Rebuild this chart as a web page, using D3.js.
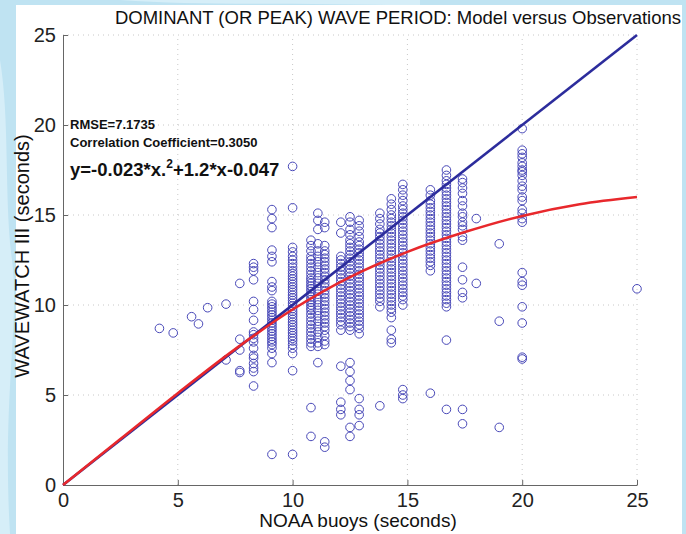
<html>
<head>
<style>
  body { margin: 0; }
  text { font-family: "Liberation Sans", Arial, Helvetica, sans-serif; }
  .grid line { stroke: #c8c8c8; stroke-dasharray: 1,4; }
  .axis path, .axis line { stroke: #666; }
  .axis text { font-size: 20px; fill: #222; }
  .note { font-weight: bold; fill: #111; }
</style>
<script src="https://d3js.org/d3.v7.min.js"></script>
</head>
<body>
<script>
var width = 686, height = 534;

var xTicks = [0, 5, 10, 15, 20, 25];
var yTicks = [0, 5, 10, 15, 20, 25];

// buoy period bins and the model values seen at each bin
var colX = [4.2, 4.8, 5.6, 5.9, 6.3, 7.1, 7.7, 8.3, 9.1, 10.0, 10.8, 11.1, 11.4, 12.1, 12.5, 12.9, 13.8, 14.3, 14.8, 16.0, 16.7, 17.4, 18.0, 19.0, 20.0, 25.0];
var colY = [
  [8.7],
  [8.45],
  [9.35],
  [8.95],
  [9.85],
  [10.05, 6.95],
  [11.2, 8.1, 7.5, 6.35, 6.25],
  [12.3, 12.1, 11.9, 11.4, 10.2, 9.75, 9.15, 8.5, 8.35, 8.15, 7.95, 7.6, 7.2, 7.05, 6.75, 6.5, 6.3, 5.5],
  [15.3, 14.8, 14.3, 13.05, 12.7, 12.4, 11.3, 11.0, 10.8, 10.2, 10.05, 9.9, 9.75, 9.6, 9.45, 9.3, 9.15, 9.0, 8.85, 8.7, 8.55, 8.4, 8.25, 8.1, 7.95, 7.8, 7.6, 7.3, 6.8, 1.7],
  [17.7, 15.4, 13.2, 12.95, 12.7, 12.5, 12.3, 12.1, 11.9, 11.75, 11.6, 11.45, 11.3, 11.15, 11.0, 10.85, 10.7, 10.55, 10.4, 10.25, 10.1, 9.95, 9.8, 9.65, 9.5, 9.35, 9.2, 9.05, 8.9, 8.75, 8.6, 8.45, 8.3, 8.15, 8.0, 7.8, 7.6, 7.3, 6.35, 1.7],
  [13.6, 13.3, 13.0, 12.7, 12.5, 12.3, 12.1, 11.9, 11.7, 11.5, 11.35, 11.2, 11.05, 10.9, 10.75, 10.6, 10.45, 10.3, 10.15, 10.0, 9.85, 9.7, 9.5, 9.3, 9.1, 8.9, 8.7, 8.5, 8.3, 8.1, 7.9, 7.7, 4.3, 2.7],
  [15.1, 14.7, 14.2, 13.4, 13.0, 12.7, 12.4, 12.1, 11.8, 11.5, 11.2, 10.9, 10.6, 10.3, 10.0, 9.7, 9.4, 9.1, 8.8, 8.5, 8.2, 7.9, 7.7, 6.8],
  [14.6, 14.3, 13.3, 13.0, 12.8, 12.6, 12.4, 12.2, 12.0, 11.8, 11.6, 11.4, 11.2, 11.0, 10.8, 10.6, 10.4, 10.2, 10.0, 9.8, 9.6, 9.4, 9.2, 9.0, 8.8, 8.6, 8.3, 8.0, 7.8, 2.4, 2.1],
  [14.6, 14.0, 12.7, 12.5, 12.3, 12.1, 11.9, 11.7, 11.5, 11.3, 11.1, 10.9, 10.7, 10.5, 10.3, 10.1, 9.9, 9.7, 9.5, 9.3, 9.1, 8.9, 8.6, 6.6, 4.6, 4.2, 3.9],
  [14.9, 14.6, 14.2, 13.9, 13.6, 13.4, 13.2, 13.0, 12.8, 12.6, 12.4, 12.2, 12.0, 11.8, 11.6, 11.4, 11.2, 11.0, 10.8, 10.6, 10.4, 10.2, 10.0, 9.8, 9.6, 9.4, 9.2, 9.0, 8.8, 8.6, 6.8, 6.3, 5.8, 5.3, 3.2, 2.7],
  [14.7, 14.4, 14.1, 13.8, 13.5, 13.3, 13.1, 12.9, 12.7, 12.5, 12.3, 12.1, 11.9, 11.7, 11.5, 11.3, 11.1, 10.9, 10.7, 10.5, 10.3, 10.1, 9.9, 9.7, 9.5, 9.3, 9.1, 8.9, 8.7, 8.4, 4.8, 4.2, 3.9, 3.3],
  [15.1, 14.8, 14.5, 14.2, 14.0, 13.8, 13.6, 13.4, 13.2, 13.0, 12.8, 12.6, 12.4, 12.2, 12.0, 11.8, 11.6, 11.4, 11.2, 11.0, 10.8, 10.6, 10.4, 10.2, 9.9, 4.4],
  [15.9, 15.6, 15.3, 15.0, 14.8, 14.6, 14.4, 14.2, 14.0, 13.8, 13.6, 13.4, 13.2, 13.0, 12.8, 12.6, 12.4, 12.2, 12.0, 11.8, 11.6, 11.4, 11.2, 11.0, 10.8, 10.6, 10.4, 10.2, 10.0, 9.8, 9.6, 9.3, 8.6, 8.1, 7.9],
  [16.7, 16.4, 16.1, 15.8, 15.5, 15.3, 15.1, 14.9, 14.7, 14.5, 14.3, 14.1, 13.9, 13.7, 13.5, 13.3, 13.1, 12.9, 12.7, 12.5, 12.3, 12.1, 11.9, 11.7, 11.5, 11.3, 11.1, 10.9, 10.7, 10.5, 10.3, 10.0, 5.3, 5.0, 4.8],
  [16.4, 16.1, 15.8, 15.6, 15.4, 15.2, 15.0, 14.8, 14.6, 14.4, 14.2, 14.0, 13.8, 13.6, 13.4, 13.2, 13.0, 12.8, 12.6, 12.4, 12.2, 11.9, 5.1],
  [17.5, 17.2, 16.9, 16.7, 16.5, 16.3, 16.1, 15.9, 15.7, 15.5, 15.3, 15.1, 14.9, 14.7, 14.5, 14.3, 14.1, 13.9, 13.7, 13.5, 13.3, 13.1, 12.9, 12.7, 12.5, 12.3, 12.1, 11.9, 11.7, 11.5, 11.3, 11.1, 10.9, 10.7, 10.5, 10.3, 10.1, 9.9, 8.05, 4.2],
  [17.0, 16.8, 16.5, 16.2, 15.8, 15.5, 15.1, 14.9, 14.6, 14.4, 14.2, 13.8, 13.6, 12.1, 11.4, 10.7, 10.4, 4.2, 3.4],
  [14.8, 11.2],
  [13.4, 9.1, 3.2],
  [19.8, 18.6, 18.4, 18.2, 17.9, 17.7, 17.5, 17.4, 17.2, 16.9, 16.6, 16.4, 16.0, 15.8, 15.3, 15.1, 14.8, 14.6, 11.8, 11.3, 11.1, 9.9, 9.0, 7.1, 7.0],
  [10.9]
];

// 1:1 line and the quadratic fit
var oneX = [0, 25];
var oneY = [0, 25];
var fitX = [0, 2.5, 5, 7.5, 10, 12.5, 15, 17.5, 20, 22.5, 25];
var fitY = [0, 2.55, 5.1, 7.55, 9.75, 11.55, 12.95, 14.05, 14.95, 15.6, 16.0];

var points = [];
colX.forEach((x, i) => colY[i].forEach(y => points.push({ x: x, y: y })));

var svg = d3.select("body").append("svg")
  .attr("width", width)
  .attr("height", height);

// light blue slide background with the white panel on top
svg.append("rect").attr("width", width).attr("height", height).attr("fill", "#bfe3f2");
svg.append("path")
  .attr("d", "M0,60 C10,120 4,200 12,260 S2,400 10,534 L0,534 Z")
  .attr("fill", "#d6eef8");
svg.append("path")
  .attr("d", "M120,0 C200,6 300,2 420,6 L420,0 Z")
  .attr("fill", "#d6eef8");
svg.append("rect")
  .attr("x", 16).attr("y", 5)
  .attr("width", 666).attr("height", height - 5)
  .attr("fill", "#fff");

var x = d3.scaleLinear().domain([0, 25]).range([63, 637]);
var y = d3.scaleLinear().domain([0, 25]).range([485, 35]);

// dotted grid
svg.append("g").attr("class", "grid")
  .selectAll("line.v").data(xTicks.slice(1)).enter().append("line")
  .attr("x1", d => x(d)).attr("x2", d => x(d))
  .attr("y1", y(0)).attr("y2", y(25));
svg.select(".grid")
  .selectAll("line.h").data(yTicks.slice(1)).enter().append("line")
  .attr("x1", x(0)).attr("x2", x(25))
  .attr("y1", d => y(d)).attr("y2", d => y(d));

var xAxis = d3.axisBottom(x).tickValues(xTicks).tickSizeInner(-5).tickSizeOuter(0).tickPadding(8);
var yAxis = d3.axisLeft(y).tickValues(yTicks).tickSizeInner(-5).tickSizeOuter(0).tickPadding(7);

svg.append("g").attr("class", "axis")
  .attr("transform", "translate(0," + y(0) + ")")
  .call(xAxis);
svg.append("g").attr("class", "axis")
  .attr("transform", "translate(" + x(0) + ",0)")
  .call(yAxis);

// observations
svg.append("g")
  .selectAll("circle").data(points).enter().append("circle")
  .attr("cx", d => x(d.x))
  .attr("cy", d => y(d.y))
  .attr("r", 4.3)
  .attr("fill", "none")
  .attr("stroke", "#4848b8")
  .attr("stroke-width", 1);

var line = d3.line().x(d => x(d[0])).y(d => y(d[1]));

svg.append("path")
  .attr("d", line(d3.zip(oneX, oneY)))
  .attr("fill", "none")
  .attr("stroke", "#2c2c9c")
  .attr("stroke-width", 2.6);

svg.append("path")
  .attr("d", line.curve(d3.curveCatmullRom)(d3.zip(fitX, fitY)))
  .attr("fill", "none")
  .attr("stroke", "#e8282c")
  .attr("stroke-width", 2.6);

// titles
svg.append("text")
  .attr("x", 681).attr("y", 24)
  .attr("text-anchor", "end")
  .style("font-size", "18.5px")
  .attr("fill", "#111")
  .text("DOMINANT (OR PEAK) WAVE PERIOD: Model versus Observations");

svg.append("text")
  .attr("x", 358).attr("y", 527)
  .attr("text-anchor", "middle")
  .style("font-size", "19px")
  .attr("fill", "#111")
  .text("NOAA buoys (seconds)");

svg.append("text")
  .attr("transform", "translate(29,256) rotate(-90)")
  .attr("text-anchor", "middle")
  .style("font-size", "20px")
  .attr("fill", "#111")
  .text("WAVEWATCH III (seconds)");

// fit statistics
svg.append("text").attr("class", "note")
  .attr("x", 70).attr("y", 129)
  .style("font-size", "13px")
  .text("RMSE=7.1735");
svg.append("text").attr("class", "note")
  .attr("x", 70).attr("y", 147)
  .style("font-size", "13px")
  .text("Correlation Coefficient=0.3050");

var eq = svg.append("text").attr("class", "note")
  .attr("x", 70).attr("y", 176)
  .style("font-size", "18.5px");
eq.append("tspan").text("y=-0.023*x.");
eq.append("tspan").attr("dy", -8).style("font-size", "12px").text("2");
eq.append("tspan").attr("dy", 8).text("+1.2*x-0.047");
</script>
</body>
</html>
